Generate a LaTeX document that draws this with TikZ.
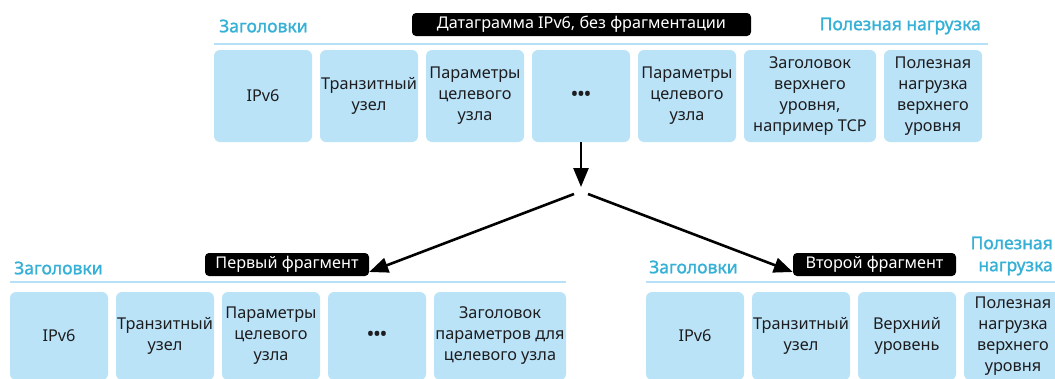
\documentclass[tikz,border=0pt]{standalone}
\usepackage{fontspec}
\setmainfont{Noto Sans}
\newfontfamily\labfont{Noto Sans}[FakeBold=1.3]
\usetikzlibrary{arrows.meta}
\definecolor{boxblue}{HTML}{BBE3F8}
\definecolor{lineblue}{HTML}{B6E0F6}
\definecolor{labelblue}{HTML}{35B0D6}
\definecolor{txt}{HTML}{1D1D1F}
\newcommand{\dotsrow}{{\fontsize{21}{21}\selectfont\textbullet\kern-1.4pt\textbullet\kern-1.4pt\textbullet}}
\tikzset{
  fieldbox/.style={fill=boxblue, rounded corners=6pt, minimum width=98pt, minimum height=92pt, inner sep=0pt, text=txt, align=center, font=\fontsize{16.3}{21}\selectfont},
  widebox/.style={fieldbox, minimum width=132pt},
  bfieldbox/.style={fieldbox, minimum height=88pt},
  bwidebox/.style={bfieldbox, minimum width=132pt},
  tag/.style={fill=black, rounded corners=4pt, text=white, inner sep=0pt, minimum height=23pt, font=\fontsize{16.2}{18}\selectfont},
  bluelab/.style={text=labelblue, inner sep=0pt, font=\labfont\fontsize{17.5}{22}\selectfont},
  rule/.style={draw=lineblue, line width=1.5pt},
  flow/.style={line width=2.6pt, -{Triangle[length=19pt,width=15pt]}},
}
\begin{document}
\begin{tikzpicture}[x=1pt,y=-1pt]
\clip (0,0) rectangle (1055,378);
\fill[white] (0,0) rectangle (1055,378);
% ---------- top row ----------
\node[bluelab, anchor=west] (th) at (219,26) {Заголовки};
\node[bluelab, anchor=east] (tp) at (981,26) {Полезная нагрузка};
\node[tag, minimum width=339pt] (tt) at (581.5,24.5) {Датаграмма IPv6, без фрагментации};
\coordinate (tl1) at (214,44);
\coordinate (tl2) at (988,44);
\draw[rule] (tl1) -- (tl2);
\node[fieldbox] (t1) at (263,96) {IPv6};
\node[fieldbox] (t2) at (369,96) {Транзитный\\узел};
\node[fieldbox] (t3) at (475,96) {Параметры\\целевого\\узла};
\node[fieldbox] (t4) at (581,96) {\dotsrow};
\node[fieldbox] (t5) at (687,96) {Параметры\\целевого\\узла};
\node[widebox] (t6) at (810,96) {Заголовок\\верхнего\\уровня,\\например TCP};
\node[fieldbox] (t7) at (933,96) {Полезная\\нагрузка\\верхнего\\уровня};
% ---------- arrows ----------
\coordinate (split) at (581,187);
\coordinate (sl) at (574,194);
\coordinate (sr) at (588,194);
\draw[flow] (t4.south) -- (split);
% ---------- bottom left ----------
\node[bluelab, anchor=west] (lh) at (14,268) {Заголовки};
\node[tag, minimum width=164pt] (lt) at (287,264.5) {Первый фрагмент};
\coordinate (ll1) at (10,282);
\coordinate (ll2) at (566,282);
\draw[rule] (ll1) -- (ll2);
\node[bfieldbox] (l1) at (59,336) {IPv6};
\node[bfieldbox] (l2) at (165,336) {Транзитный\\узел};
\node[bfieldbox] (l3) at (271,336) {Параметры\\целевого\\узла};
\node[bfieldbox] (l4) at (377,336) {\dotsrow};
\node[bwidebox] (l5) at (500,336) {Заголовок\\параметров для\\целевого узла};
% ---------- bottom right ----------
\node[bluelab, anchor=west] (rh) at (649,267) {Заголовки};
\node[tag, minimum width=163pt] (rt) at (874.5,264.5) {Второй фрагмент};
\node[bluelab, anchor=east, align=right] (rp) at (1053,256) {Полезная\\нагрузка};
\coordinate (rl1) at (646,282);
\coordinate (rl2) at (1060,282);
\draw[rule] (rl1) -- (rl2);
\node[bfieldbox] (r1) at (695,336) {IPv6};
\node[bfieldbox] (r2) at (801,336) {Транзитный\\узел};
\node[bfieldbox] (r3) at (907,336) {Верхний\\уровень};
\node[bfieldbox] (r4) at (1013,336) {Полезная\\нагрузка\\верхнего\\уровня};
% diagonal arrows
\draw[flow] (sl) -- (lt.east |- 0,272);
\draw[flow] (sr) -- (rt.west |- 0,272);
\end{tikzpicture}
\end{document}
